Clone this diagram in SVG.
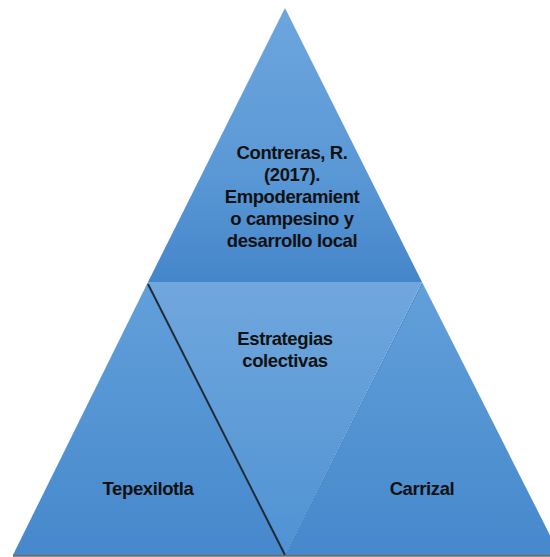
<svg xmlns="http://www.w3.org/2000/svg" width="550" height="557" viewBox="0 0 550 557">
<defs>
<linearGradient id="gTop" x1="0" y1="8" x2="0" y2="282" gradientUnits="userSpaceOnUse">
<stop offset="0" stop-color="#6da6dd"/><stop offset="0.6" stop-color="#5a98d6"/><stop offset="1" stop-color="#4586ca"/>
</linearGradient>
<linearGradient id="gMid" x1="0" y1="282" x2="0" y2="555" gradientUnits="userSpaceOnUse">
<stop offset="0" stop-color="#70a7dd"/><stop offset="1" stop-color="#4f92d3"/>
</linearGradient>
<linearGradient id="gSide" x1="0" y1="282" x2="0" y2="555" gradientUnits="userSpaceOnUse">
<stop offset="0" stop-color="#62a0da"/><stop offset="1" stop-color="#4688cc"/>
</linearGradient>
<style>
.t{font-family:"Liberation Sans",Arial,sans-serif;font-weight:bold;font-size:18.5px;letter-spacing:-0.4px;fill:#111;text-anchor:middle}
</style>
</defs>
<line x1="13" y1="555.5" x2="550" y2="555.5" stroke="#6b6b6b" stroke-width="2.5"/>
<g id="top">
<polygon points="285,8 148,282 422,282" fill="url(#gTop)"/>
<text class="t" x="292" y="159">Contreras, R.</text>
<text class="t" x="292" y="181">(2017).</text>
<text class="t" x="292" y="203">Empoderamient</text>
<text class="t" x="292" y="225">o campesino y</text>
<text class="t" x="292" y="247">desarrollo local</text>
</g>
<g id="left">
<polygon points="148,282 13,555 285,555" fill="url(#gSide)"/>
<text class="t" x="148" y="495">Tepexilotla</text>
</g>
<g id="right">
<polygon points="422,282 285,555 560,555" fill="url(#gSide)"/>
<text class="t" x="422" y="495">Carrizal</text>
</g>
<g id="middle">
<polygon points="148,282 422,282 285,555" fill="url(#gMid)"/>
<text class="t" x="285" y="345">Estrategias</text>
<text class="t" x="285" y="367">colectivas</text>
</g>
<g id="connectors">
<line x1="148" y1="284" x2="285" y2="555" stroke="#1e2a38" stroke-width="2"/>
<line x1="422" y1="284" x2="285" y2="555" stroke="#4a7db3" stroke-width="1" stroke-dasharray="1.5,1.5"/>
</g>
</svg>
